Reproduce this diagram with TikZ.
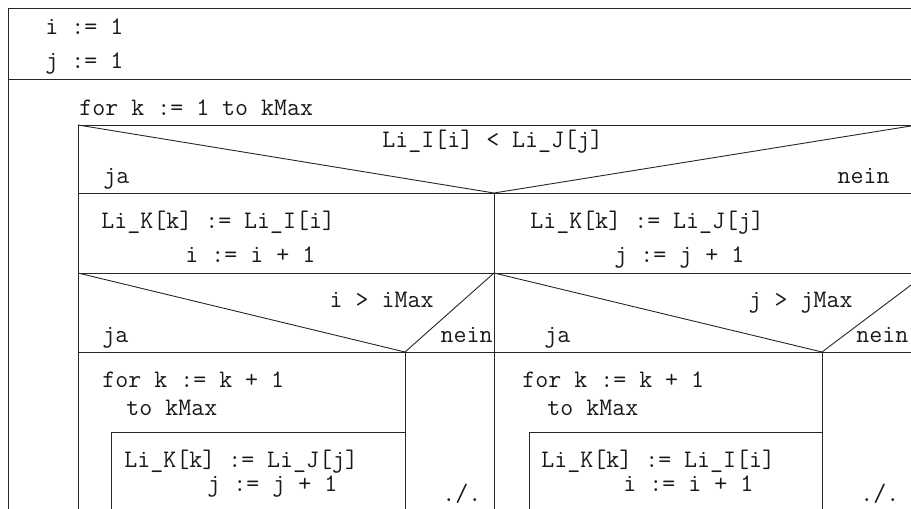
\documentclass[tikz,border=0pt]{standalone}
\usepackage{fontspec}
\begin{document}
\begin{tikzpicture}[x=1pt,y=-1pt,line width=0.9pt,draw=black!85,
  txt/.style={anchor=base west,inner sep=0pt,font=\ttfamily\fontsize{25.2}{29}\selectfont,text=black!90},
  txtr/.style={txt,anchor=base east}]
\useasboundingbox (0,0) rectangle (911,509);
\clip (0,0) rectangle (911,509);
% outer sequence
\draw (8,530) -- (8,8) -- (940,8);
\draw (8,79) -- (940,79);
\node[txt] (ione) at (45,34) {i := 1};
\node[txt] (jone) at (45,68) {j := 1};
% for loop
\node[txt] (fork) at (79,115) {for k := 1 to kMax};
\draw (78,530) -- (78,125) -- (940,125);
% first decision
\draw (78,125) -- (494,193) -- (917,125);
\draw (78,193) -- (940,193);
\draw (494,193) -- (494,530);
\node[txt] (cond) at (382,147) {Li\_I[i] < Li\_J[j]};
\node[txt] (ja) at (103,183) {ja};
\node[txtr] (nein) at (890,183) {nein};
\node[txt] (asgi) at (101,228) {Li\_K[k] := Li\_I[i]};
\node[txt] (inci) at (185,262) {i := i + 1};
\node[txt] (asgj) at (530,228) {Li\_K[k] := Li\_J[j]};
\node[txt] (incj) at (614,262) {j := j + 1};
\draw (78,273) -- (940,273);
% left: i > iMax
\draw (78,273) -- (405,352) -- (494,273);
\draw (78,352) -- (494,352);
\draw (405,352) -- (405,530);
\node[txtr] (condi) at (434,307) {i > iMax};
\node[txt] (jaI) at (102,342) {ja};
\node[txtr] (neinI) at (493,342) {nein};
\node[txt] (forI) at (102,387) {for k := k + 1};
\node[txt] (toI) at (126,415) {to kMax};
\draw (111,530) -- (111,432) -- (405,432);
\node[txt] (restj) at (124,467) {Li\_K[k] := Li\_J[j]};
\node[txt] (incrj) at (207,491) {j := j + 1};
\node[txt] (skipI) at (442,501) {./.};
% right: j > jMax
\draw (494,273) -- (822,352) -- (927,273);
\draw (494,352) -- (940,352);
\draw (822,352) -- (822,530);
\node[txtr] (condj) at (853,307) {j > jMax};
\node[txt] (jaJ) at (544,342) {ja};
\node[txt] (neinJ) at (856,342) {nein};
\node[txt] (forJ) at (522,387) {for k := k + 1};
\node[txt] (toJ) at (547,415) {to kMax};
\draw (529,530) -- (529,432) -- (822,432);
\node[txt] (resti) at (541,467) {Li\_K[k] := Li\_I[i]};
\node[txt] (incri) at (623,491) {i := i + 1};
\node[txt] (skipJ) at (860,501) {./.};
\end{tikzpicture}
\end{document}
